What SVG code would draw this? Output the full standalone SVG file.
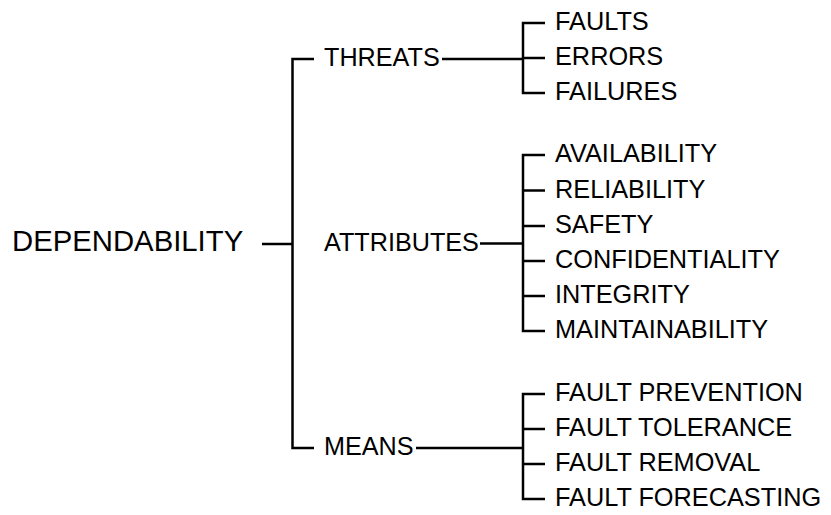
<svg xmlns="http://www.w3.org/2000/svg" width="831" height="515" viewBox="0 0 831 515">
<style>
text{font-family:"Liberation Sans",Arial,sans-serif;fill:#000}
.root{font-size:29.3px}
.mid{font-size:25.2px}
.leaf{font-size:25.3px}
.c{fill:none;stroke:#000;stroke-width:2.5}
</style>
<rect width="831" height="515" fill="#fff"/>
<g id="connectors">
<path class="c" d="M262,244H292.5M314,59H292.5V448H314"/>
<path class="c" d="M442,59H523"/>
<path class="c" d="M545,23H523V93H545M523,58H545"/>
<path class="c" d="M480,243.5H523"/>
<path class="c" d="M545,155H523V331H545M523,190.5H545M523,226H545M523,261H545M523,296H545"/>
<path class="c" d="M416,448H523"/>
<path class="c" d="M545,394H523V499H545M523,429H545M523,464H545"/>
</g>
<g id="dependability"><text class="root" x="12" y="251">DEPENDABILITY</text></g>
<g id="threats"><text class="mid" x="324" y="66">THREATS</text></g>
<g id="attributes"><text class="mid" x="324" y="251">ATTRIBUTES</text></g>
<g id="means"><text class="mid" x="324" y="455">MEANS</text></g>
<g id="faults"><text class="leaf" x="555" y="30">FAULTS</text></g>
<g id="errors"><text class="leaf" x="555" y="65">ERRORS</text></g>
<g id="failures"><text class="leaf" x="555" y="100">FAILURES</text></g>
<g id="availability"><text class="leaf" x="555" y="162">AVAILABILITY</text></g>
<g id="reliability"><text class="leaf" x="555" y="197.5">RELIABILITY</text></g>
<g id="safety"><text class="leaf" x="555" y="233">SAFETY</text></g>
<g id="confidentiality"><text class="leaf" x="555" y="268">CONFIDENTIALITY</text></g>
<g id="integrity"><text class="leaf" x="555" y="303">INTEGRITY</text></g>
<g id="maintainability"><text class="leaf" x="555" y="338">MAINTAINABILITY</text></g>
<g id="fault-prevention"><text class="leaf" x="555" y="401">FAULT PREVENTION</text></g>
<g id="fault-tolerance"><text class="leaf" x="555" y="436">FAULT TOLERANCE</text></g>
<g id="fault-removal"><text class="leaf" x="555" y="471">FAULT REMOVAL</text></g>
<g id="fault-forecasting"><text class="leaf" x="555" y="506">FAULT FORECASTING</text></g>
</svg>
